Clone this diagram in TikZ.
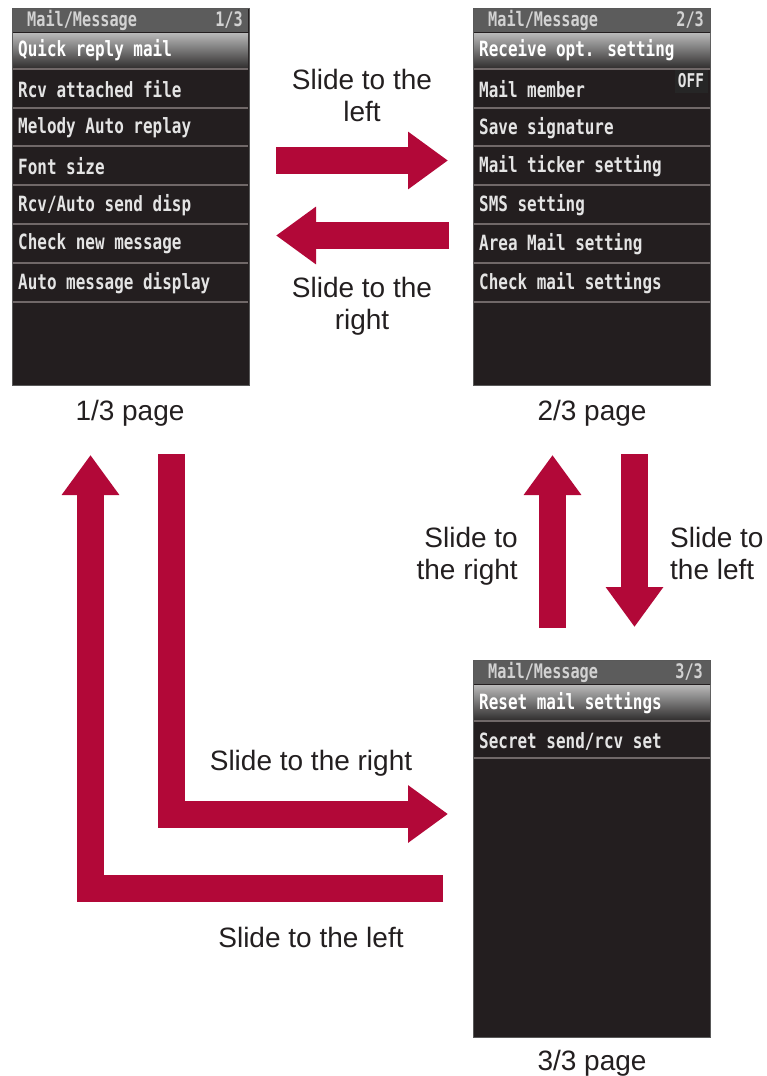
\documentclass[tikz,border=0pt]{standalone}
\usepackage{fontspec}
\setmainfont{Liberation Sans}
\newfontfamily\scr[FakeStretch=0.76]{DejaVu Sans Mono}
\usetikzlibrary{arrows.meta}
\definecolor{arrowred}{RGB}{178,8,56}
\definecolor{ink}{RGB}{35,31,32}
\definecolor{scrbg}{RGB}{35,30,31}
\definecolor{hdr}{RGB}{92,92,92}
\definecolor{sepc}{RGB}{112,104,104}
\definecolor{rowtxt}{RGB}{228,228,228}
\definecolor{hitop}{RGB}{185,185,185}
\definecolor{hibot}{RGB}{45,43,43}
\begin{document}
\begin{tikzpicture}[x=1pt,y=-1pt,
 screen/.style={draw=gray!70!black, line width=1pt, fill=scrbg, minimum width=237pt, minimum height=377pt, anchor=north west, inner sep=0pt},
 row/.style={anchor=west, inner sep=0pt, text=rowtxt, font=\scr\bfseries\fontsize{21}{21}\selectfont},
 hdrtxt/.style={inner sep=0pt, text=gray!35, font=\scr\bfseries\fontsize{20}{20}\selectfont},
 offtxt/.style={inner sep=0pt, text=rowtxt, font=\scr\bfseries\fontsize{19}{19}\selectfont},
 captxt/.style={inner sep=0pt, text=ink, align=center, font=\fontsize{28}{32}\selectfont},
 sepline/.style={draw=sepc, line width=1.3pt},
 blk/.style={draw=arrowred, line width=27pt, -{Triangle[width=55pt,length=40pt]}, line join=miter}
]
\useasboundingbox[fill=white] (0,0) rectangle (767,1076);

% ---------- Screen 1 ----------
\node[screen] (s1) at (12,8) {};
\fill[hdr] (13,9) rectangle (248,32);
\shade[top color=hitop, bottom color=hibot] (13,33) rectangle (248,69);
\foreach \yy in {69,108,146,185,224,263,302} \draw[sepline] (13,\yy) -- (248,\yy);
\node[hdrtxt, anchor=west] (s1h) at (27,20) {Mail/Message};
\node[hdrtxt, anchor=east] (s1p) at (243,20) {1/3};
\node[row, text=white] (s1r1) at (18,50) {Quick reply mail};
\node[row] (s1r2) at (18,89) {Rcv attached file};
\node[row] (s1r3) at (18,128) {Melody Auto replay};
\node[row] (s1r4) at (18,166) {Font size};
\node[row] (s1r5) at (18,205) {Rcv/Auto send disp};
\node[row] (s1r6) at (18,244) {Check new message};
\node[row] (s1r7) at (18,283) {Auto message display};

% ---------- Screen 2 ----------
\node[screen] (s2) at (473,8) {};
\fill[hdr] (474,9) rectangle (710,32);
\shade[top color=hitop, bottom color=hibot] (474,33) rectangle (710,69);
\foreach \yy in {69,108,146,185,224,263,302} \draw[sepline] (474,\yy) -- (710,\yy);
\node[hdrtxt, anchor=west] (s2h) at (488,20) {Mail/Message};
\node[hdrtxt, anchor=east] (s2p) at (704,20) {2/3};
\node[row, text=white] (s2r1) at (479,50) {Receive opt. setting};
\node[row] (s2r2) at (479,89) {Mail member};
\node[fill=black!85, minimum width=33pt, minimum height=23pt, inner sep=0pt] (off) at (691,81) {};
\node[offtxt] (offt) at (off.center) {OFF};
\node[row] (s2r3) at (479,128) {Save signature};
\node[row] (s2r4) at (479,166) {Mail ticker setting};
\node[row] (s2r5) at (479,205) {SMS setting};
\node[row] (s2r6) at (479,244) {Area Mail setting};
\node[row] (s2r7) at (479,283) {Check mail settings};

% ---------- Screen 3 ----------
\node[screen] (s3) at (473,660) {};
\fill[hdr] (474,661) rectangle (710,684);
\shade[top color=hitop, bottom color=hibot] (474,685) rectangle (710,721);
\foreach \yy in {721,758} \draw[sepline] (474,\yy) -- (710,\yy);
\node[hdrtxt, anchor=west] (s3h) at (488,672) {Mail/Message};
\node[hdrtxt, anchor=east] (s3p) at (703,672) {3/3};
\node[row, text=white] (s3r1) at (479,703) {Reset mail settings};
\node[row] (s3r2) at (479,741) {Secret send/rcv set};

% ---------- Captions ----------
\node[captxt, anchor=base] (c1) at (130,420) {1/3 page};
\node[captxt, anchor=base] (c2) at (592,420) {2/3 page};
\node[captxt, anchor=base] (c3) at (592,1070) {3/3 page};

% ---------- Arrows ----------
\coordinate (a1s) at (276,160.5); \coordinate (a1e) at (448,160.5);
\coordinate (a2s) at (449,235.5); \coordinate (a2e) at (276,235.5);
\coordinate (a3s) at (552.5,628); \coordinate (a3e) at (552.5,455);
\coordinate (a4s) at (634.5,454); \coordinate (a4e) at (634.5,627);
\coordinate (a5s) at (171.5,454); \coordinate (a5c) at (171.5,814); \coordinate (a5e) at (448,814);
\coordinate (a6s) at (443,888.5); \coordinate (a6c) at (90.5,888.5); \coordinate (a6e) at (90.5,455);
\draw[blk] (a1s) -- (a1e);
\draw[blk] (a2s) -- (a2e);
\draw[blk] (a3s) -- (a3e);
\draw[blk] (a4s) -- (a4e);
\draw[blk] (a5s) -- (a5c) -- (a5e);
\draw[blk] (a6s) -- (a6c) -- (a6e);

% ---------- Arrow labels ----------
\node[captxt] (l1) at (362,95.8) {Slide to the\\left};
\node[captxt] (l2) at (362,306.7) {Slide to the\\right};
\node[captxt, align=right, anchor=east] (l3) at (518,556.7) {Slide to\\the right};
\node[captxt, align=left, anchor=west] (l4) at (670,553.8) {Slide to\\the left};
\node[captxt, anchor=base] (l5) at (311,770) {Slide to the right};
\node[captxt, anchor=base] (l6) at (311,947) {Slide to the left};
\end{tikzpicture}
\end{document}
